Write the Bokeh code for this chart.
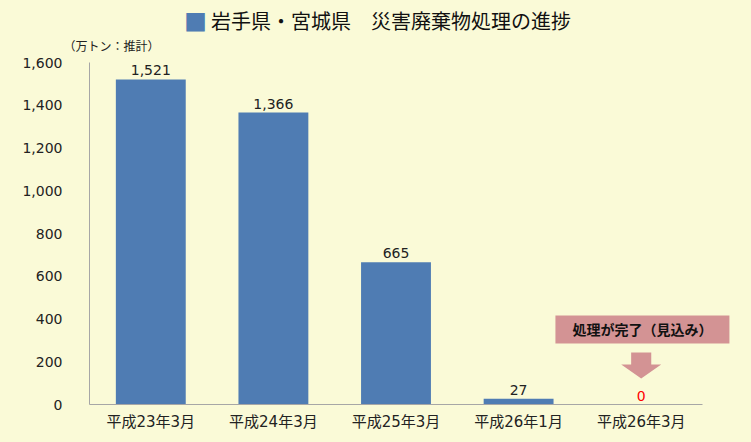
from bokeh.plotting import figure
from bokeh.models import (ColumnDataSource, LabelSet, Label, Range1d, NumeralTickFormatter,
                          FixedTicker, LinearAxis)
from bokeh.core.properties import value
from bokeh.embed import file_html
from bokeh.resources import INLINE

categories = ["平成23年3月", "平成24年3月", "平成25年3月", "平成26年1月", "平成26年3月"]
values = [1521, 1366, 665, 27, 0]
value_labels = ["1,521", "1,366", "665", "27", "0"]
label_colors = ["#222222", "#222222", "#222222", "#222222", "#FF0000"]
y_ticks = [0, 200, 400, 600, 800, 1000, 1200, 1400, 1600]

BG = "#FAFAD7"
BAR = "#4F7CB3"
PINK = "#D39394"
CJK = "DejaVu Sans, Noto Sans CJK JP"

W, H = 751, 442
AX_X, BASE_Y = 89, 404          # page position of the y axis line and the zero line
CAT_PX = 122.6                  # pixels per category
Y_PER_PX = 1600 / 342           # data units per pixel

xpos = [i + 0.5 for i in range(len(categories))]

p = figure(x_range=Range1d(-AX_X / CAT_PX, (W - AX_X) / CAT_PX),
           y_range=Range1d(-(H - BASE_Y) * Y_PER_PX, BASE_Y * Y_PER_PX),
           width=W, height=H, output_backend="svg", toolbar_location=None,
           min_border=0, x_axis_type=None, y_axis_type=None)
p.background_fill_color = BG
p.border_fill_color = BG
p.outline_line_color = None
p.grid.visible = False

src = ColumnDataSource(dict(x=xpos, cat=categories, val=values, lab=value_labels, col=label_colors))
p.vbar(x="x", top="val", width=0.57, source=src, color=BAR, line_color=None)

p.add_layout(LabelSet(x="x", y="val", text="lab", text_color="col", source=src,
                      text_align="center", text_baseline="bottom", y_offset=4,
                      text_font=value("DejaVu Sans"), text_font_size="14px"))

yaxis = LinearAxis(fixed_location=0, bounds=(0, 1600), ticker=FixedTicker(ticks=y_ticks),
                   formatter=NumeralTickFormatter(format="0,0"))
xaxis = LinearAxis(fixed_location=0, bounds=(0, len(categories)), ticker=FixedTicker(ticks=xpos),
                   major_label_overrides={x: c for x, c in zip(xpos, categories)})
for ax in (xaxis, yaxis):
    ax.axis_line_color = "#A6A6A6"
    ax.major_tick_line_color = None
    ax.minor_tick_line_color = None
    ax.major_label_text_color = "#222222"
yaxis.major_label_text_font = "DejaVu Sans"
yaxis.major_label_text_font_size = "14px"
yaxis.major_label_standoff = 21
xaxis.major_label_text_font = CJK
xaxis.major_label_text_font_size = "15px"
xaxis.major_label_standoff = 2
p.add_layout(yaxis, "left")
p.add_layout(xaxis, "below")

# Title
p.add_layout(Label(x=0.865, y=1796, text="■", text_color=BAR, text_font="Noto Sans CJK JP",
                   text_font_size="23px", text_align="center", text_baseline="middle"))
p.add_layout(Label(x=0.992, y=1796, text="岩手県・宮城県　災害廃棄物処理の進捗", text_color="#111111",
                   text_font="Noto Sans CJK JP", text_font_size="20px", text_font_style="normal",
                   text_align="left", text_baseline="middle"))
# Unit
p.add_layout(Label(x=0.18, y=1679, text="（万トン：推計）", text_color="#222222",
                   text_font="Noto Sans CJK JP", text_font_size="12px",
                   text_align="center", text_baseline="middle"))

# Annotation box
p.add_layout(Label(x=4.51, y=351, text="処理が完了（見込み）", text_color="#111111",
                   text_font="Noto Sans CJK JP", text_font_size="14px", text_font_style="bold",
                   text_align="center", text_baseline="middle",
                   background_fill_color=PINK, padding=dict(left=17, right=17, top=4, bottom=4)))

# Arrow
p.patch(x=[4.5 - 0.082, 4.5 + 0.082, 4.5 + 0.082, 4.5 + 0.163, 4.5, 4.5 - 0.163, 4.5 - 0.082],
        y=[243, 243, 187, 187, 122, 187, 187], color=PINK, line_color=None)

html = file_html(p, INLINE)
html = html.replace("<body>", f"<body style=\"margin:0;background:{BG};\">")
open("out.html", "w").write(html)
